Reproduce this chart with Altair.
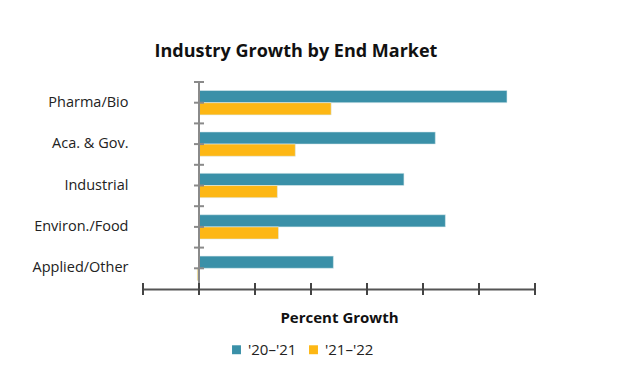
import altair as alt
import pandas as pd

categories = ["Pharma/Bio", "Aca. & Gov.", "Industrial", "Environ./Food", "Applied/Other"]
series = ["'20–'21", "'21–'22"]
growth_20_21 = [27.5, 21.1, 18.3, 22.0, 12.0]
growth_21_22 = [11.8, 8.6, 7.0, 7.1, -0.15]
x_ticks = [-5, 0, 5, 10, 15, 20, 25, 30]
colors = ["#3A90A8", "#FDB714"]

rows = []
for c, a, b in zip(categories, growth_20_21, growth_21_22):
    rows.append({"market": c, "period": series[0], "growth": a})
    rows.append({"market": c, "period": series[1], "growth": b})
df = pd.DataFrame(rows)
cat_df = pd.DataFrame({"market": categories})
tick_df = pd.DataFrame({"t": x_ticks})

W, H = 392, 207
FONT = "Open Sans"

xscale = alt.Scale(domain=[-5, 30], nice=False, zero=False)
yscale = alt.Scale(domain=categories, paddingInner=0, paddingOuter=0)

bars = alt.Chart(df).mark_bar(stroke="#DCEBEF", strokeWidth=0.6).encode(
    x=alt.X("growth:Q", scale=xscale,
            axis=alt.Axis(values=x_ticks, labels=False, ticks=False, grid=False,
                          domainColor="#555555", domainWidth=2,
                          title="Percent Growth", titleFont=FONT, titleFontSize=15,
                          titleFontWeight="bold", titleColor="#111111", titlePadding=21)),
    x2=alt.datum(0),
    y=alt.Y("market:N", scale=yscale, sort=categories,
            axis=alt.Axis(title=None, domain=False, ticks=False, tickSize=0,
                          labelPadding=15, labelFont=FONT, labelFontSize=14.5,
                          labelColor="#222222")),
    yOffset=alt.YOffset("period:N", sort=series,
                        scale=alt.Scale(paddingInner=0, paddingOuter=0.7)),
    color=alt.Color("period:N", sort=series,
                    scale=alt.Scale(domain=series, range=colors),
                    legend=alt.Legend(title=None, orient="none", direction="horizontal",
                                      legendX=86, legendY=260, symbolType="square",
                                      symbolSize=80, symbolStrokeWidth=0,
                                      labelFont=FONT, labelFontSize=15,
                                      labelColor="#222222", columnPadding=9)),
)

yline = alt.Chart(cat_df).mark_rule(color="#8A8A8A", strokeWidth=2).encode(
    x=alt.datum(0, scale=xscale),
    y=alt.value(0),
    y2=alt.value(H),
)

yticks_edge = alt.Chart(cat_df).mark_rule(color="#8A8A8A", strokeWidth=2, xOffset=-5, x2Offset=5).encode(
    x=alt.datum(0),
    x2=alt.datum(0),
    y=alt.Y("market:N", sort=categories, bandPosition=0),
)
yticks_mid = alt.Chart(cat_df).mark_rule(color="#8A8A8A", strokeWidth=2, xOffset=-5, x2Offset=5).encode(
    x=alt.datum(0),
    x2=alt.datum(0),
    y=alt.Y("market:N", sort=categories, bandPosition=0.5),
)

xticks = alt.Chart(tick_df).mark_rule(color="#444444", strokeWidth=2).encode(
    x=alt.X("t:Q"),
    y=alt.value(H - 6),
    y2=alt.value(H + 6),
)

chart = alt.layer(bars, yline, yticks_edge, yticks_mid, xticks).properties(
    width=W, height=H,
    title=alt.TitleParams("Industry Growth by End Market", font=FONT, fontSize=18,
                          fontWeight="bold", color="#111111", anchor="middle",
                          dx=-43, offset=20),
    autosize=alt.AutoSizeParams(type="none"),
    padding={"left": 135, "top": 74, "right": 82, "bottom": 81},
).configure_view(stroke=None)

chart.save("out.html", embed_options={"renderer": "svg", "actions": False})
